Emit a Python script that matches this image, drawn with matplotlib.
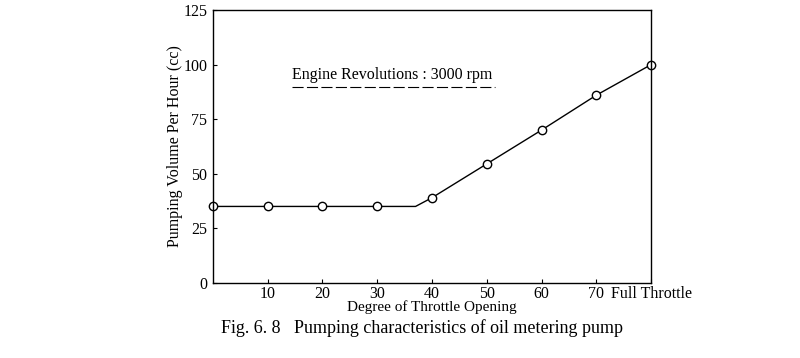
import matplotlib.pyplot as plt

plt.rcParams['font.family'] = ['Liberation Serif', 'DejaVu Serif']

# measured points (open circles)
throttle = [0, 10, 20, 30, 40, 50, 60, 70, 80]
volume = [35, 35, 35, 35, 39, 54.5, 70, 86, 100]
# line has a kink where the flat part ends
line_x = [0, 10, 20, 30, 37, 40, 50, 60, 70, 80]
line_y = [35, 35, 35, 35, 35, 39, 54.5, 70, 86, 100]

xticks = [10, 20, 30, 40, 50, 60, 70, 80]
xlabels = ['10', '20', '30', '40', '50', '60', '70', 'Full Throttle']
yticks = [0, 25, 50, 75, 100, 125]

fig = plt.figure(figsize=(8, 3.58), dpi=100)
ax = fig.add_axes([0.266, 0.21, 0.548, 0.762])

ax.plot(line_x, line_y, color='black', lw=1)
ax.plot(throttle, volume, 'o', mfc='white', mec='black', ms=6, mew=1, clip_on=False)

ax.set_xlim(0, 80)
ax.set_ylim(0, 125)
ax.set_xticks(xticks)
ax.set_xticklabels(xlabels)
ax.set_yticks(yticks)
ax.tick_params(direction='in', length=3, labelsize=11.5)
ax.tick_params(axis='x', pad=2)
ax.tick_params(axis='y', pad=4)
for s in ax.spines.values():
    s.set_linewidth(1)

ax.set_ylabel('Pumping Volume Per Hour (cc)', fontsize=11.5, labelpad=0)
ax.set_xlabel('Degree of Throttle Opening', fontsize=11, labelpad=-1)

ax.text(14.5, 95, 'Engine Revolutions : 3000 rpm', fontsize=11.5, va='center')
ax.plot([14.5, 51.5], [89.5, 89.5], color='black', lw=0.8, dashes=(10, 3))

fig.text(0.527, 0.085, 'Fig. 6. 8   Pumping characteristics of oil metering pump',
         fontsize=13, ha='center', va='center')

fig.savefig('out.png')
